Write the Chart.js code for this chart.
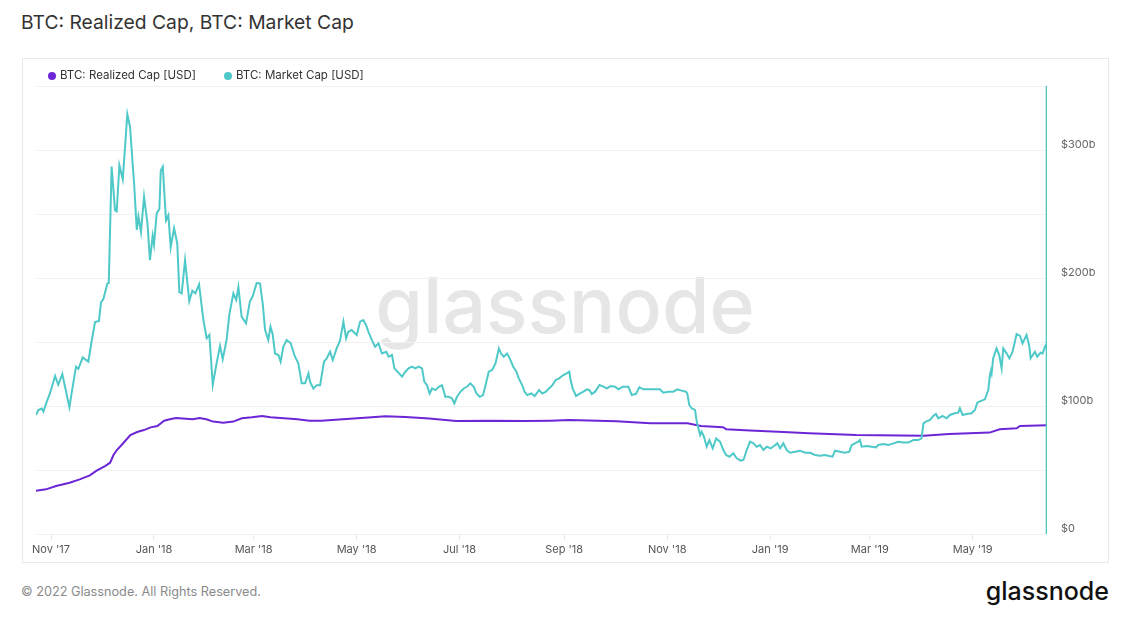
<!DOCTYPE html>
<html><head><meta charset="utf-8">
<script src="https://cdn.jsdelivr.net/npm/chart.js@4/dist/chart.umd.min.js"></script>
<style>
html,body{margin:0;padding:0;background:#fff;width:1129px;height:628px;overflow:hidden;font-family:Inter,"Noto Sans",sans-serif;}
#title{position:absolute;left:21px;top:13px;font-size:19.3px;line-height:19.3px;color:#333;white-space:nowrap;}
#card{position:absolute;left:22px;top:58px;width:1087px;height:505px;border:1px solid #e9e9e9;box-sizing:border-box;}
#wm{position:absolute;left:565px;top:267px;transform:translateX(-50%);font-size:77px;line-height:77px;font-weight:500;color:#e6e6e6;white-space:nowrap;}
#cv{position:absolute;left:0;top:0;}
.leg{position:absolute;top:70px;font-size:11.5px;line-height:11.5px;color:#333;white-space:nowrap;}
.dot{position:absolute;width:8px;height:8px;border-radius:50%;top:71.5px;}
#foot{position:absolute;left:21px;top:586px;font-size:12.7px;line-height:12.7px;color:#8a8a8a;white-space:nowrap;}
#logo{position:absolute;right:20px;top:579px;font-size:25px;line-height:25px;font-weight:500;color:#111;white-space:nowrap;}
</style></head>
<body>
<div id="title">BTC: Realized Cap, BTC: Market Cap</div>
<div id="wm">glassnode</div>
<div id="card"><canvas id="cv" width="1085" height="503"></canvas></div>
<div class="dot" style="left:48px;background:#6c26d6"></div>
<div class="leg" style="left:60px">BTC: Realized Cap [USD]</div>
<div class="dot" style="left:224px;background:#4ec9c8"></div>
<div class="leg" style="left:236px">BTC: Market Cap [USD]</div>
<div id="foot">© 2022 Glassnode. All Rights Reserved.</div>
<div id="logo">glassnode</div>
<script>
// Day offsets counted from 2017-11-01 (day 0)
const startDate = '2017-11-01';
const monthTickDays = [0, 61, 120, 181, 242, 304, 365, 426, 485, 546];
const monthTickLabels = ["Nov '17", "Jan '18", "Mar '18", "May '18", "Jul '18", "Sep '18", "Nov '18", "Jan '19", "Mar '19", "May '19"];
const yLabelValues = [0, 100, 200, 300];
const yLabels = ['$0', '$100b', '$200b', '$300b'];

const realizedDays = [-8.9,-3,3,11,17,23,27,32,35,37,39,43,47,51,55,59,63,67,71,74,80,84,88,92,96,102,108,113,119,125,
  130,138,146,153,160,175,190,198,210,224,240,260,280,296,307,335,355,377,385,398,400,414,434,449,477,517,532,556,562,572,574,590];
const realizedCap = [33.8,34.9,37.5,40.1,42.7,45.8,49.5,53.1,55.7,61.7,65.6,71.3,77.3,79.7,81.2,83.3,84.4,88.5,89.8,90.6,
  90.1,89.6,90.6,89.6,87.8,87,87.8,90.4,91.2,92.2,91.2,90.4,89.6,88.5,88.5,89.8,91.2,92,91.5,90.3,88.2,88.5,88.2,88.5,89,88,
  86.5,86.5,84.4,83.4,81.9,80.8,79.7,78.7,77.3,76.8,78.1,79.2,81.8,82.6,84.4,84.9];

const marketDays = [
  -8.9,-7.5,-5.5,-4.5,-2.6,-0.6,2.4,4.3,6.7,8.3,10.9,12.2,
  14.8,16.2,18.8,20.7,22.1,24.1,26.1,28.4,29.6,31,33.4,34.2,
  35.9,37.9,38.9,40.5,42.5,45.2,46.8,49.2,50.8,51.8,53.3,55.1,
  57.1,58.6,60.2,61,62.6,64.2,65,66.2,68.1,69.5,70.9,72.9,
  74.8,76,77.4,79.4,81.9,83.7,85.5,87.7,90.2,92.2,93.8,95.8,
  97.7,100.1,101.7,104,105.6,108,109.7,111,112.9,115.5,117.8,119.4,
  121.8,123.8,125.4,126.8,128.7,130,131.3,132.7,134.7,136,137.6,139.6,
  142,144.5,146.5,148.5,150.5,152.5,153.4,155.4,157.4,159.4,161.7,163.3,
  165.3,166.9,169.2,171.2,173.2,174.8,176.1,178.1,181.1,183.1,185,186.6,
  188,190,192,194,196,198.6,200,202,203.4,205.3,207.9,209.9,
  211.8,213.8,215.8,217.8,219.8,221.1,222.7,224.3,225.7,227.7,229.7,231.6,
  233.6,235.6,237.6,238.9,240.5,242.5,244.5,246.4,248.4,250.4,252,254,
  255.9,257.9,259.3,261.3,263.3,265.3,266.6,268.2,270.2,272.2,273.8,275.7,
  277.1,279.1,280.5,282.1,284.5,286.5,289.1,291,293,295,297,299,
  301,303.5,305.5,307,307.8,309,311,313.4,315.4,317.4,319,320.3,
  322.3,324.9,327.2,329.2,331.6,334.1,336.1,338.7,342,344,346.5,348.5,
  350.9,353.8,356.8,360.7,362.7,365.7,368.6,371,373.6,376.1,376.9,378.1,
  379.5,381.5,382.5,383.5,384.5,385.4,386.8,388.4,390,392,394,396.3,
  398.3,399.9,401.9,404.2,406.2,408.6,410.2,412.1,414.1,416.1,418,420,
  422,424,426.3,428.3,430.3,431.9,433.8,435.8,437.8,440.8,443.7,446.7,
  449.6,452.6,455.5,458.5,461,463,464.4,467.4,470.3,472.9,474.3,476.3,
  478.2,479.2,480.2,483.2,486.1,488.7,490.1,493,496,499,501.9,504.9,
  507.8,510.8,513.7,515.7,516.8,518.3,520.7,522.6,524.2,525.6,528.1,530.5,
  532.5,535.4,537.4,538.4,540,542.4,545.3,547.3,548.7,551.3,553.2,555.2,
  556.2,556.8,557.2,558.1,560.1,561.7,563.1,564.1,566.1,567.7,569.6,572,
  574,575.5,577.9,579.5,580.3,582.8,584.2,586.2,587.4,588.8,589.8,589.8,589.8];
const marketCap = [
  93,96.9,98,95.6,103,110,123.4,116.6,125,115,99,110,
  130.7,129,138,136,134.6,151,165.6,166.5,181,183.6,195.8,196,
  287,253,252,288,277,328,318,274,237.5,248,236,263.6,
  243,214,233,226,250.5,254,284,287,245,249,224,238.8,
  227,189,188,214,182,190,188,195,167.7,152.9,155.5,116.4,
  130.7,147,136.6,151.7,171,188,182.8,193,169.8,164.6,181.6,185.5,
  196,195.8,180,159.5,151.6,162,156,141,139.8,134.6,146.3,151.6,
  149,138.5,133.3,117.7,117.7,125.5,119,113.7,116.3,116.3,134.6,137.2,
  142.4,135.9,145,151,165.9,152.9,158,159.4,155.5,165.9,167.2,163.3,
  158,151.6,146.3,149,141,142.4,138.5,139.8,129.4,126.8,122.9,126.8,
  129.4,130.7,129.4,130.7,129.4,119,116.3,109.8,113.7,112.4,115,116.3,
  107.2,107.2,105.9,102,107.2,111.1,113.7,115,117.7,115,109.8,107.2,
  108.5,119,126.8,128.1,133.3,145,141,138.5,141,135.9,130.7,126.8,
  121.6,116.3,111.1,108.5,109.8,107.7,112.4,109.8,111,113.7,116.3,120.3,
  121.6,124.2,125.5,126.8,120.3,113.8,107.8,109.9,111.2,113,112.5,109.4,
  111.2,116.4,115.1,113.8,115.6,115.1,113,115.1,115.1,108.6,109.4,114.6,
  113,113,113,113,110.4,111.2,111.2,113,112,111.2,109.9,100.8,
  98.2,96.9,87.8,82.6,77.3,79.9,76,68.2,73.4,66.9,74.7,72.1,
  65.6,61.7,60.4,63,59.1,57.3,57.8,65.6,72.1,70.8,68.2,69.5,
  65.6,68.2,66.9,68.7,70.8,66.9,70.8,65.6,63.5,64.3,65.1,63.5,
  63.5,61.7,61.2,61.7,60.9,60.4,65.1,64.3,63.5,64.3,69.5,70.8,
  72.1,73.4,68.2,68.7,68.2,67.7,69.5,70.3,69.5,70.8,72.1,71.4,
  71.4,73.4,73.4,74.7,86.4,87.8,89.1,92.2,93.8,90.4,92.2,90.4,
  93,94.3,94.8,98.2,93,93.8,94.3,96.9,102.6,104.2,105.2,112.5,
  124.2,127.6,125.5,137.2,145,139.8,129.4,145,141.1,137.2,142.4,156.2,
  154.7,148.9,155.5,146.9,137.2,142.4,138.5,141.6,141.1,146.3,148.9,350,0];

const toPoints = (xs, ys) => xs.map((x, i) => ({ x: x, y: ys[i] }));

new Chart(document.getElementById('cv'), {
  type: 'line',
  data: {
    datasets: [
      { label: 'BTC: Realized Cap [USD]', data: toPoints(realizedDays, realizedCap),
        borderColor: '#6c26d6', backgroundColor: '#6c26d6', borderWidth: 2, pointRadius: 0, tension: 0, order: 1 },
      { label: 'BTC: Market Cap [USD]', data: toPoints(marketDays, marketCap),
        borderColor: '#4ec9c8', backgroundColor: '#4ec9c8', borderWidth: 2, pointRadius: 0, tension: 0, order: 0 }
    ]
  },
  options: {
    responsive: false, animation: false, devicePixelRatio: 1,
    layout: { padding: { left: 13, top: 27, right: 0, bottom: 0 } },
    plugins: { legend: { display: false }, tooltip: { enabled: false } },
    scales: {
      x: {
        type: 'linear', min: -8.9, max: 590,
        afterBuildTicks: s => { s.ticks = monthTickDays.map(v => ({ value: v })); },
        afterFit: s => { s.height = 28; },
        grid: { drawOnChartArea: false, drawTicks: true, tickLength: 6, color: '#e8e8e8' },
        border: { display: false },
        ticks: { autoSkip: false, maxRotation: 0, padding: 3, color: '#555', font: { family: 'Inter', size: 11 },
          callback: v => { const i = monthTickDays.indexOf(v); return i >= 0 ? monthTickLabels[i] : ''; } }
      },
      y: {
        position: 'right', min: 0, max: 350,
        afterFit: s => { s.width = 61; },
        grid: { drawTicks: false, color: '#f1f1f1' },
        border: { display: false },
        ticks: { stepSize: 50, padding: 14, labelOffset: -5, color: '#666', font: { family: 'Inter', size: 11 },
          callback: v => { const i = yLabelValues.indexOf(v); return i >= 0 ? yLabels[i] : ''; } }
      }
    }
  }
});
</script>
</body></html>
